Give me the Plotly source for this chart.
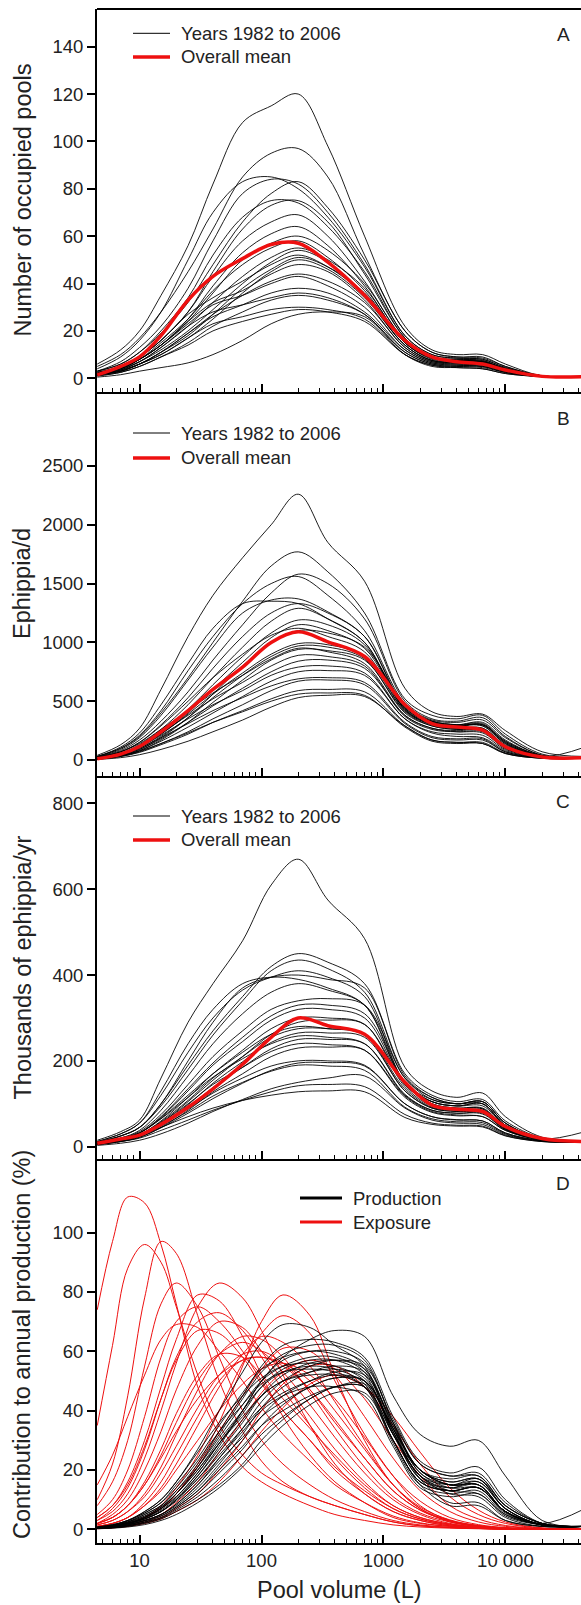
import plotly.graph_objects as go

# ---------------- data ----------------
X_ABC = [4.5, 7, 10, 15, 25, 40, 70, 120, 200, 350, 700, 1500, 2500, 4000, 6500, 10000, 20000, 45000]
X_D = [4.5, 6, 8, 11, 15, 20, 30, 45, 70, 100, 150, 250, 400, 700, 1200, 2000, 3500, 6000, 10000, 20000, 45000]

A_mean = [1.4, 5, 9, 18, 33, 43, 50.5, 56.5, 57, 49, 35, 16, 9, 7, 6, 3.5, 0.8, 0.7]
A_years = [
    [6, 12, 20, 35, 56, 82, 108, 115, 120, 98, 60, 22, 12, 10, 10, 6, 1, 0.7],
    [5, 10, 17, 28, 45, 63, 85, 95, 97, 85, 52, 20, 11, 9, 9, 5, 1, 0.7],
    [4, 9, 16, 28, 50, 70, 83, 85, 80, 68, 47, 18, 10, 8.5, 8, 4.5, 1, 0.7],
    [3, 7, 13, 22, 38, 58, 78, 84, 82, 70, 48, 18, 10, 8.5, 8, 4.5, 1, 0.7],
    [3, 6, 11, 19, 32, 48, 66, 78, 83, 72, 50, 20, 11, 9, 8.5, 5, 1, 0.7],
    [3, 6, 11, 20, 34, 52, 68, 75, 74, 64, 45, 17, 9, 8, 7.5, 4, 1, 0.7],
    [2.5, 5, 9, 16, 28, 45, 63, 73, 75, 66, 44, 17, 9, 8, 7.5, 4, 1, 0.7],
    [2.5, 5, 9, 16, 28, 43, 58, 66, 69, 60, 41, 16, 9, 7.5, 7, 4, 0.9, 0.7],
    [2, 4.5, 8, 14, 25, 39, 53, 61, 64, 56, 39, 15, 8.5, 7.5, 7, 4, 0.9, 0.7],
    [2, 4, 8, 14, 24, 36, 50, 57, 60, 54, 40, 16, 9, 7.5, 7, 4, 0.9, 0.7],
    [2, 4, 8, 15, 25, 37, 48, 55, 58, 51, 37, 15, 8, 7, 6.5, 3.5, 0.8, 0.7],
    [1.5, 4, 7, 13, 22, 32, 43, 51, 55, 50, 38, 15, 8.5, 7.5, 7, 4, 0.8, 0.7],
    [1.5, 3.5, 7, 12, 20, 29, 40, 49, 54, 49, 35, 14, 7.5, 7, 6.5, 3.5, 0.8, 0.7],
    [2, 5, 9, 16, 27, 34, 41, 48, 52, 47, 35, 14, 7.5, 6.5, 6, 3.5, 0.8, 0.7],
    [1.5, 3.5, 6, 11, 18, 27, 38, 46, 51, 47, 36, 15, 8.5, 7.5, 7, 4, 0.8, 0.7],
    [1.5, 3, 6, 10, 17, 25, 36, 45, 50, 46, 34, 14, 7.5, 6.5, 6, 3.5, 0.8, 0.7],
    [2, 4, 8, 14, 24, 32, 37, 44, 48, 45, 33, 13, 7, 6.5, 6, 3.5, 0.8, 0.7],
    [1.5, 3, 6, 11, 19, 27, 35, 41, 44, 41, 32, 13, 7, 6, 5.5, 3, 0.8, 0.7],
    [2, 4.5, 8, 14, 23, 31, 35, 40, 43, 39, 30, 12, 6.5, 6, 5.5, 3, 0.7, 0.7],
    [1.5, 3, 6, 11, 19, 26, 31, 36, 38, 36, 28, 12, 6.5, 5.5, 5, 3, 0.7, 0.7],
    [1.5, 3.5, 7, 13, 22, 28, 31, 34, 36, 34, 27, 11, 6, 5.5, 5, 2.5, 0.7, 0.7],
    [1, 2.5, 5, 9, 15, 22, 28, 33, 35, 33, 27, 11, 6, 5, 5, 2.5, 0.7, 0.7],
    [1.5, 3, 6, 10, 17, 23, 26, 29, 30, 29, 25, 10, 5.5, 5, 4.5, 2.5, 0.7, 0.7],
    [1, 2.5, 5, 9, 14, 20, 24, 27, 29, 28, 24, 10, 5.5, 4.5, 4, 2, 0.7, 0.7],
    [0.5, 1.5, 3, 4.5, 6.5, 10, 16, 23, 27, 28, 26, 10, 5, 4.5, 4, 2, 0.7, 0.7],
]

B_mean = [10, 50, 115, 240, 420, 600, 790, 1000, 1090, 1005, 880, 470, 310, 280, 255, 113, 25, 20]
B_years = [
    [40, 130, 270, 600, 1050, 1400, 1720, 2000, 2260, 1850, 1520, 610, 410, 370, 390, 250, 70, 30],
    [30, 100, 200, 400, 700, 1000, 1350, 1650, 1770, 1600, 1250, 520, 380, 350, 380, 220, 50, 20],
    [25, 80, 170, 330, 580, 850, 1150, 1420, 1580, 1500, 1200, 500, 350, 330, 360, 200, 40, 20],
    [30, 100, 210, 420, 760, 1050, 1330, 1500, 1560, 1400, 1100, 480, 340, 320, 340, 190, 40, 20],
    [25, 90, 190, 380, 680, 960, 1250, 1360, 1370, 1260, 1050, 450, 330, 300, 320, 170, 35, 20],
    [30, 110, 230, 470, 820, 1120, 1330, 1350, 1330, 1200, 1000, 430, 310, 290, 300, 160, 35, 20],
    [20, 70, 150, 300, 530, 780, 1050, 1250, 1330, 1250, 1050, 460, 330, 300, 310, 160, 35, 20],
    [20, 60, 130, 260, 470, 700, 960, 1180, 1290, 1200, 1000, 440, 320, 290, 300, 150, 30, 20],
    [15, 55, 120, 240, 430, 640, 880, 1080, 1190, 1150, 980, 430, 310, 290, 300, 150, 30, 20],
    [15, 50, 110, 220, 400, 600, 830, 1040, 1150, 1100, 950, 440, 320, 290, 290, 140, 30, 20],
    [20, 70, 150, 290, 500, 700, 900, 1060, 1120, 1050, 920, 420, 300, 270, 270, 130, 30, 20],
    [10, 40, 90, 190, 360, 560, 800, 1000, 1100, 1080, 960, 470, 330, 300, 290, 140, 30, 110],
    [15, 50, 110, 220, 390, 560, 740, 900, 990, 980, 880, 420, 300, 270, 270, 120, 25, 20],
    [12, 45, 100, 200, 360, 530, 720, 880, 970, 960, 860, 400, 290, 260, 260, 115, 25, 20],
    [20, 70, 140, 260, 420, 570, 720, 860, 950, 920, 820, 380, 270, 250, 250, 110, 25, 20],
    [10, 35, 80, 170, 320, 490, 680, 850, 940, 930, 850, 410, 290, 260, 250, 110, 25, 20],
    [15, 55, 120, 230, 380, 520, 660, 800, 890, 880, 800, 370, 260, 240, 240, 100, 22, 20],
    [10, 40, 90, 180, 320, 460, 610, 750, 840, 850, 780, 380, 270, 240, 230, 100, 22, 20],
    [15, 50, 110, 210, 350, 470, 590, 720, 790, 800, 740, 350, 240, 220, 210, 90, 20, 20],
    [10, 35, 80, 160, 280, 400, 540, 670, 750, 760, 720, 350, 230, 200, 190, 80, 20, 20],
    [12, 45, 100, 190, 310, 420, 530, 630, 690, 700, 660, 320, 200, 180, 180, 70, 18, 20],
    [8, 30, 70, 140, 240, 350, 470, 590, 670, 680, 640, 310, 190, 170, 170, 70, 18, 20],
    [8, 30, 65, 130, 220, 320, 420, 520, 590, 600, 580, 290, 170, 150, 150, 60, 15, 15],
    [10, 35, 75, 140, 230, 320, 410, 500, 560, 570, 550, 280, 160, 140, 140, 55, 15, 15],
    [5, 20, 45, 90, 160, 240, 340, 450, 530, 550, 540, 290, 170, 150, 140, 55, 15, 15],
]

C_mean = [8, 18, 27, 52, 92, 135, 192, 255, 300, 282, 262, 150, 97, 87, 82, 47, 19, 12]
C_years = [
    [15, 35, 62, 160, 290, 380, 480, 610, 670, 575, 485, 185, 130, 115, 125, 70, 22, 12],
    [10, 25, 45, 100, 190, 270, 350, 420, 450, 430, 380, 170, 120, 105, 110, 60, 20, 12],
    [10, 25, 45, 95, 180, 260, 340, 410, 435, 415, 360, 160, 115, 100, 105, 55, 18, 12],
    [12, 30, 55, 120, 220, 300, 365, 395, 410, 395, 350, 150, 110, 100, 105, 55, 18, 12],
    [10, 25, 45, 100, 200, 290, 370, 395, 400, 390, 370, 165, 115, 100, 105, 55, 18, 12],
    [12, 30, 55, 130, 240, 320, 380, 395, 390, 370, 330, 145, 105, 95, 100, 50, 18, 12],
    [8, 20, 38, 85, 165, 240, 310, 360, 380, 365, 330, 150, 105, 95, 100, 50, 18, 12],
    [8, 20, 35, 75, 145, 210, 270, 320, 340, 345, 330, 160, 110, 100, 100, 50, 18, 12],
    [8, 18, 32, 70, 135, 195, 255, 305, 330, 330, 310, 150, 105, 95, 95, 50, 18, 12],
    [8, 18, 32, 68, 130, 190, 245, 295, 320, 320, 300, 145, 100, 90, 90, 48, 18, 12],
    [7, 16, 28, 60, 115, 170, 225, 275, 300, 300, 285, 140, 95, 88, 88, 45, 18, 12],
    [6, 15, 26, 55, 105, 155, 210, 262, 290, 295, 285, 145, 100, 90, 88, 45, 18, 35],
    [8, 18, 32, 66, 120, 170, 220, 262, 280, 275, 260, 130, 90, 82, 80, 42, 16, 12],
    [7, 16, 28, 58, 108, 160, 210, 255, 275, 275, 262, 135, 92, 85, 85, 44, 17, 12],
    [6, 14, 25, 52, 98, 148, 198, 243, 265, 265, 255, 130, 90, 82, 80, 42, 16, 12],
    [8, 18, 32, 65, 115, 162, 205, 240, 258, 255, 240, 120, 85, 78, 78, 40, 16, 12],
    [6, 14, 25, 50, 92, 138, 185, 228, 250, 250, 240, 122, 85, 78, 76, 40, 16, 12],
    [7, 16, 28, 56, 100, 145, 185, 222, 240, 238, 225, 115, 80, 72, 70, 38, 15, 12],
    [5, 12, 22, 45, 85, 128, 170, 210, 230, 232, 225, 118, 82, 74, 70, 38, 15, 12],
    [6, 14, 25, 50, 88, 125, 160, 188, 200, 200, 190, 100, 70, 63, 60, 32, 14, 12],
    [5, 12, 22, 44, 78, 112, 148, 178, 195, 196, 188, 100, 70, 62, 60, 32, 14, 12],
    [6, 14, 25, 48, 82, 118, 150, 176, 190, 188, 178, 92, 65, 58, 56, 30, 13, 12],
    [3, 8, 15, 30, 55, 82, 110, 135, 150, 160, 165, 90, 62, 55, 52, 28, 13, 10],
    [5, 12, 20, 38, 62, 85, 108, 128, 142, 145, 140, 75, 55, 50, 48, 26, 12, 10],
    [6, 14, 25, 45, 70, 90, 108, 120, 128, 130, 128, 68, 52, 48, 46, 25, 12, 10],
]

D_exposure = [
    [74, 97, 112, 110, 96, 76, 48, 32, 21, 16, 12, 8, 5, 3, 1.5, 0.8, 0.4, 0.2, 0, 0, 0],
    [35, 62, 88, 96, 90, 75, 52, 35, 25, 19, 15, 11, 8, 5, 2.5, 1.2, 0.6, 0.3, 0.1, 0, 0],
    [10, 22, 45, 78, 97, 93, 72, 50, 33, 23, 16, 11, 8, 5, 2.5, 1.2, 0.6, 0.3, 0.1, 0, 0],
    [8, 16, 30, 55, 76, 83, 75, 58, 40, 30, 22, 15, 10, 6, 3, 1.5, 0.7, 0.3, 0.1, 0, 0],
    [3, 6, 12, 24, 40, 56, 75, 83, 78, 67, 52, 35, 22, 12, 6, 3, 1.2, 0.5, 0.2, 0, 0],
    [4, 8, 16, 30, 48, 64, 79, 77, 65, 52, 38, 25, 16, 9, 4, 2, 1, 0.4, 0.1, 0, 0],
    [0.5, 1, 2, 4, 7, 12, 22, 36, 55, 70, 79, 72, 52, 30, 15, 7, 2.5, 1, 0.3, 0, 0],
    [0.5, 1, 2, 4, 8, 14, 25, 40, 56, 66, 72, 66, 50, 32, 18, 8, 3, 1.2, 0.4, 0, 0],
    [5, 10, 20, 38, 58, 70, 75, 70, 60, 50, 40, 30, 20, 12, 6, 3, 1.2, 0.5, 0.2, 0, 0],
    [3, 7, 14, 27, 44, 58, 70, 73, 67, 58, 47, 35, 24, 14, 7, 3.5, 1.5, 0.6, 0.2, 0, 0],
    [2, 5, 10, 20, 33, 47, 62, 70, 68, 60, 50, 38, 27, 16, 8, 4, 1.8, 0.8, 0.3, 0, 0],
    [4, 8, 15, 28, 44, 57, 67, 66, 58, 49, 40, 30, 21, 13, 7, 3.5, 1.5, 0.6, 0.2, 0, 0],
    [1.5, 3, 6, 12, 21, 32, 47, 59, 65, 64, 58, 46, 34, 21, 11, 5.5, 2.5, 1, 0.4, 0, 0],
    [1, 2, 4, 8, 14, 22, 35, 48, 59, 65, 63, 55, 43, 28, 15, 7, 3, 1.2, 0.4, 0, 0],
    [2, 4, 8, 15, 25, 36, 50, 59, 63, 60, 53, 42, 31, 19, 10, 5, 2, 0.8, 0.3, 0, 0],
    [0.5, 1, 2, 4, 7, 12, 21, 33, 45, 54, 61, 60, 52, 38, 24, 13, 6, 2.5, 1, 0.2, 0],
    [1.5, 3, 6, 11, 19, 28, 41, 52, 59, 60, 56, 47, 36, 24, 13, 6.5, 2.8, 1.1, 0.4, 0, 0],
    [2, 4, 8, 15, 24, 33, 44, 52, 57, 58, 56, 50, 40, 27, 15, 7.5, 3.2, 1.3, 0.5, 0.1, 0],
    [0.5, 1, 1.5, 3, 5, 9, 16, 26, 37, 46, 53, 57, 54, 44, 30, 18, 8, 3.5, 1.3, 0.3, 0],
    [1, 2, 4, 8, 13, 20, 30, 40, 49, 54, 56, 52, 44, 31, 18, 9.5, 4, 1.6, 0.6, 0.1, 0],
    [0.3, 0.6, 1.2, 2.5, 4, 7, 12, 20, 30, 40, 49, 55, 55, 48, 35, 22, 11, 5, 2, 0.4, 0],
    [2, 4, 8, 16, 27, 39, 52, 59, 58, 52, 44, 34, 25, 15, 8, 4, 1.7, 0.7, 0.2, 0, 0],
    [15, 25, 38, 52, 64, 69, 68, 60, 50, 41, 32, 23, 15, 9, 4.5, 2.2, 1, 0.4, 0.1, 0, 0],
    [0.2, 0.5, 1, 2, 3.5, 6, 10, 16, 25, 33, 41, 49, 52, 48, 38, 26, 14, 6.5, 2.5, 0.5, 0.1],
    [1, 2, 4, 9, 16, 25, 38, 50, 57, 58, 55, 47, 37, 24, 13, 6.5, 2.8, 1.1, 0.4, 0, 0],
]

D_production = [
    [0.8, 1.5, 3, 6, 10, 16, 27, 40, 53, 63, 69, 68, 62, 55, 32, 20, 15, 17, 8, 2, 1],
    [0.5, 1, 2, 4, 7, 11, 19, 29, 40, 50, 58, 64, 67, 65, 45, 32, 28, 30, 18, 3, 1],
    [0.6, 1.2, 2.5, 5, 8, 13, 22, 33, 45, 55, 62, 64, 63, 58, 38, 23, 19, 21, 10, 2, 1],
    [0.5, 1, 2, 4, 7, 12, 21, 32, 44, 53, 59, 62, 62, 57, 36, 20, 16, 17, 7, 1.5, 1],
    [0.7, 1.5, 3, 5.5, 9, 15, 24, 35, 46, 54, 58, 60, 59, 54, 34, 18, 14, 16, 7, 1.5, 1],
    [0.5, 1, 2, 3.5, 6, 10, 18, 28, 40, 50, 57, 60, 60, 56, 36, 19, 15, 15, 6, 1.5, 1],
    [0.6, 1.2, 2.5, 5, 8, 13, 21, 31, 42, 50, 55, 58, 58, 53, 33, 17, 14, 15, 6, 1.5, 1],
    [0.5, 1, 2, 4, 7, 11, 19, 29, 39, 48, 54, 57, 57, 52, 32, 17, 13, 14, 6, 1.5, 1],
    [0.8, 1.6, 3, 6, 10, 16, 26, 36, 45, 51, 55, 56, 55, 50, 30, 16, 13, 14, 6, 1.5, 1],
    [0.5, 1, 1.8, 3.5, 6, 10, 17, 26, 36, 45, 52, 56, 57, 54, 35, 20, 17, 18, 8, 2, 1],
    [0.6, 1.2, 2.4, 4.5, 7.5, 12, 20, 30, 40, 48, 53, 55, 54, 49, 30, 16, 13, 14, 5.5, 1.5, 1],
    [0.4, 0.8, 1.6, 3, 5, 8.5, 15, 24, 34, 43, 50, 55, 57, 55, 37, 22, 18, 19, 9, 2, 1],
    [0.7, 1.4, 2.8, 5.5, 9, 14, 23, 33, 42, 49, 53, 54, 53, 48, 29, 15, 12, 13, 5, 1.5, 1],
    [0.5, 1, 2, 3.8, 6.5, 10.5, 18, 27, 37, 45, 50, 53, 54, 51, 33, 18, 15, 16, 7, 1.5, 1],
    [0.4, 0.8, 1.5, 3, 5, 8, 14, 22, 32, 41, 48, 53, 55, 53, 35, 20, 16, 17, 7, 1.5, 1],
    [0.6, 1.2, 2.3, 4.4, 7.5, 12, 20, 29, 38, 45, 50, 52, 52, 48, 30, 16, 13, 14, 6, 1.5, 1],
    [0.3, 0.6, 1.2, 2.5, 4.5, 7.5, 13, 21, 30, 38, 45, 50, 53, 52, 36, 22, 18, 18, 8, 2, 1],
    [0.5, 1, 2, 3.5, 6, 10, 17, 25, 34, 41, 46, 50, 52, 50, 34, 20, 15, 15, 6, 1.5, 1],
    [0.4, 0.8, 1.6, 3, 5, 8.5, 15, 23, 31, 38, 43, 48, 51, 50, 34, 19, 14, 14, 6, 2, 7],
    [0.3, 0.6, 1.2, 2.4, 4, 7, 12, 19, 27, 35, 42, 48, 51, 50, 34, 20, 15, 15, 6, 1.5, 1],
    [0.4, 0.8, 1.5, 2.8, 4.5, 7.5, 13, 20, 28, 35, 40, 45, 48, 48, 32, 18, 13, 12, 5, 1.5, 1],
    [0.3, 0.6, 1.2, 2.2, 3.8, 6.5, 11, 17, 25, 32, 38, 44, 48, 48, 32, 18, 12, 11, 4, 1, 1],
    [0.3, 0.5, 1, 2, 3.5, 6, 10, 15, 22, 30, 37, 44, 48, 49, 33, 17, 9, 9, 3, 1, 1],
    [0.2, 0.4, 0.8, 1.6, 3, 5, 9, 14, 21, 28, 35, 42, 46, 46, 30, 15, 8, 8, 3, 1, 1],
    [0.5, 1, 2, 3.5, 6, 9.5, 16, 24, 33, 40, 45, 48, 48, 45, 28, 14, 11, 12, 4.5, 1.5, 1],
]

X_TICKVALS = [10, 100, 1000, 10000]
X_TICKTEXT = ["10", "100", "1000", "10 000"]
A_TICKS = [0, 20, 40, 60, 80, 100, 120, 140]
B_TICKS = [0, 500, 1000, 1500, 2000, 2500]
C_TICKS = [0, 200, 400, 600, 800]
D_TICKS = [0, 20, 40, 60, 80, 100]

Y_TITLES = ["Number of occupied pools", "Ephippia/d", "Thousands of ephippia/yr",
            "Contribution to annual production (%)"]
PANEL_LETTERS = ["A", "B", "C", "D"]
X_TITLE = "Pool volume (L)"

for arr, n in [(A_years, 18), (B_years, 18), (C_years, 18), (D_exposure, 21), (D_production, 21)]:
    for row in arr:
        if len(row) != n:
            raise ValueError(f"bad row length {len(row)}: {row}")

# ---------------- figure ----------------
W, H = 581, 1605
L, T, BM = 97, 9, 62
PW, PH = W - L, H - T - BM
FONT = "Liberation Sans, Arial, Helvetica, sans-serif"
TXT = "#222222"
RED = "rgb(238,16,16)"
BLK = "rgba(0,0,0,0.88)"
TICK_FS = 18.5
TITLE_FS = 23.5


def px(x):
    return (x - L) / PW


def py(y):
    return (H - BM - y) / PH


edges = [9, 392, 776, 1159, 1543]
domains = [[py(edges[i + 1]), py(edges[i])] for i in range(4)]
domains[0][1] = 1.0
domains[3][0] = 0.0
yranges = [[-5.8, 155.9], [-136, 3129], [-28.7, 864], [-4.6, 124.8]]
yticks = [A_TICKS, B_TICKS, C_TICKS, D_TICKS]

fig = go.Figure()

panels = [(A_years, A_mean), (B_years, B_mean), (C_years, C_mean)]
for i, (years, mean) in enumerate(panels):
    xa = "x" if i == 0 else f"x{i+1}"
    ya = "y" if i == 0 else f"y{i+1}"
    for row in years:
        fig.add_trace(go.Scatter(x=X_ABC, y=row, mode="lines", xaxis=xa, yaxis=ya,
                                 line=dict(color=BLK, width=1, shape="spline", smoothing=1.0),
                                 showlegend=False, hoverinfo="skip"))
    fig.add_trace(go.Scatter(x=X_ABC, y=mean, mode="lines", xaxis=xa, yaxis=ya,
                             line=dict(color=RED, width=3.5, shape="spline", smoothing=1.0),
                             showlegend=False, hoverinfo="skip"))

for row in D_exposure:
    fig.add_trace(go.Scatter(x=X_D, y=row, mode="lines", xaxis="x4", yaxis="y4",
                             line=dict(color=RED, width=1, shape="spline", smoothing=1.0),
                             showlegend=False, hoverinfo="skip"))
for row in D_production:
    fig.add_trace(go.Scatter(x=X_D, y=row, mode="lines", xaxis="x4", yaxis="y4",
                             line=dict(color=BLK, width=1, shape="spline", smoothing=1.0),
                             showlegend=False, hoverinfo="skip"))

minor_vals = [m * 10 ** k for k in range(0, 5) for m in range(2, 10)
              if 4.4 < m * 10 ** k < 45000]

layout = dict(
    width=W, height=H, autosize=False,
    margin=dict(l=L, r=0, t=T, b=BM, pad=0),
    paper_bgcolor="white", plot_bgcolor="white",
    font=dict(family=FONT, size=TICK_FS, color=TXT),
    showlegend=False,
)
for i in range(4):
    xk = "xaxis" if i == 0 else f"xaxis{i+1}"
    yk = "yaxis" if i == 0 else f"yaxis{i+1}"
    layout[xk] = dict(
        type="log", range=[0.651, 4.62], domain=[0, 1],
        anchor="y" if i == 0 else f"y{i+1}",
        showline=True, linewidth=2, linecolor="black",
        ticks="inside", ticklen=8, tickwidth=1.5, tickcolor="black",
        tickmode="array", tickvals=X_TICKVALS, ticktext=X_TICKTEXT,
        showticklabels=(i == 3), tickfont=dict(size=TICK_FS, color=TXT, family=FONT),
        minor=dict(ticks="inside", ticklen=4.5, tickwidth=1.2, tickcolor="black",
                   tickmode="array", tickvals=minor_vals, showgrid=False),
        showgrid=False, zeroline=False,
        matches=None if i == 0 else "x",
    )
    layout[yk] = dict(
        range=yranges[i], domain=domains[i],
        anchor="x" if i == 0 else f"x{i+1}",
        showline=True, linewidth=2, linecolor="black",
        ticks="outside", ticklen=8, tickwidth=1.5, tickcolor="black",
        tickmode="array", tickvals=yticks[i],
        tickfont=dict(size=TICK_FS, color=TXT, family=FONT),
        showgrid=False, zeroline=False,
    )
fig.update_layout(**layout)

shapes = [dict(type="line", xref="paper", yref="paper", x0=0, x1=1, y0=1, y1=1,
               line=dict(color="black", width=2))]
annotations = []

centers = [(edges[i] + edges[i + 1]) / 2 for i in range(4)]
letter_y = [35, 418, 802, 1183]
for i in range(4):
    annotations.append(dict(x=px(22), y=py(centers[i] - (6 if i == 3 else 0)), xref="paper", yref="paper",
                            text=Y_TITLES[i], textangle=-90, showarrow=False,
                            xanchor="center", yanchor="middle",
                            font=dict(size=TITLE_FS, color=TXT, family=FONT)))
    annotations.append(dict(x=px(563), y=py(letter_y[i]), xref="paper", yref="paper",
                            text=PANEL_LETTERS[i], showarrow=False,
                            xanchor="center", yanchor="middle",
                            font=dict(size=19, color=TXT, family=FONT)))

annotations.append(dict(x=0.5, y=py(1590), xref="paper", yref="paper", text=X_TITLE,
                        showarrow=False, xanchor="center", yanchor="middle",
                        font=dict(size=TITLE_FS, color=TXT, family=FONT)))

leg_rows = [(33.3, 57), (433, 458), (816, 840)]
for (y1, y2) in leg_rows:
    shapes.append(dict(type="line", xref="paper", yref="paper", x0=px(133), x1=px(170),
                       y0=py(y1), y1=py(y1), line=dict(color="black", width=1)))
    shapes.append(dict(type="line", xref="paper", yref="paper", x0=px(133), x1=px(170),
                       y0=py(y2), y1=py(y2), line=dict(color=RED, width=3.5)))
    annotations.append(dict(x=px(179), y=py(y1), xref="paper", yref="paper",
                            text="Years 1982 to 2006", showarrow=False,
                            xanchor="left", yanchor="middle",
                            font=dict(size=TICK_FS, color=TXT, family=FONT)))
    annotations.append(dict(x=px(179), y=py(y2), xref="paper", yref="paper",
                            text="Overall mean", showarrow=False,
                            xanchor="left", yanchor="middle",
                            font=dict(size=TICK_FS, color=TXT, family=FONT)))

for yy, col, lab in [(1198, "black", "Production"), (1222, RED, "Exposure")]:
    shapes.append(dict(type="line", xref="paper", yref="paper", x0=px(300), x1=px(342),
                       y0=py(yy), y1=py(yy), line=dict(color=col, width=3)))
    annotations.append(dict(x=px(351), y=py(yy), xref="paper", yref="paper",
                            text=lab, showarrow=False, xanchor="left", yanchor="middle",
                            font=dict(size=TICK_FS, color=TXT, family=FONT)))

fig.update_layout(shapes=shapes, annotations=annotations)
fig.write_html("out.html", config={"displayModeBar": False},
               post_script="document.body.style.margin='0';document.body.style.overflow='hidden';")
